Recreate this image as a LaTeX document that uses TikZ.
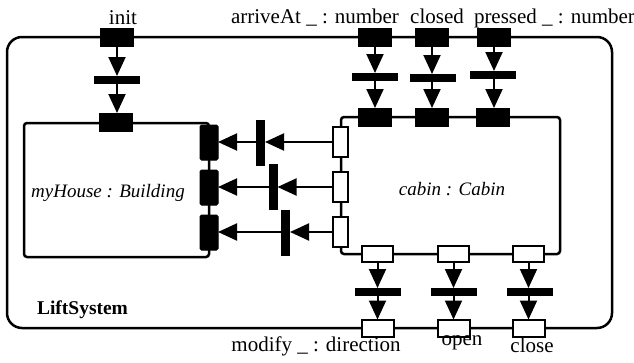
\documentclass[tikz,border=0pt]{standalone}
\usepackage{fontspec}
\setmainfont{Liberation Serif}
\usetikzlibrary{arrows.meta}
\begin{document}
\begin{tikzpicture}[x=1pt,y=-1pt,
  every node/.style={inner sep=0pt, outer sep=0pt},
  bport/.style={draw=black, fill=black, line width=1pt, minimum width=33pt, minimum height=18pt},
  wport/.style={draw=black, fill=white, line width=2pt, minimum width=31pt, minimum height=16pt},
  bvport/.style={draw=black, fill=black, line width=1pt, minimum width=18pt, minimum height=35pt, rounded corners=1.5pt},
  wvport/.style={draw=black, fill=white, line width=2pt, minimum width=15pt, minimum height=30pt},
  hbar/.style={fill=black, minimum width=46pt, minimum height=8pt},
  vbar/.style={fill=black, minimum width=9pt, minimum height=46pt},
  arr/.style={line width=2pt, -{Triangle[length=19pt,width=17pt]}},
  frame/.style={line width=2.5pt},
  lbl/.style={font=\fontsize{21}{25}\selectfont, anchor=base},
]
\useasboundingbox (0,0) rectangle (634,362);
% outer system
\draw[frame, rounded corners=15pt] (7,37) rectangle (612,328);
% parts
\draw[frame, rounded corners=3pt] (24,123) rectangle (209,257);
\draw[frame, rounded corners=3pt] (341,117) rectangle (560,254);

% outer top ports
\node[bport] (pinit) at (117,37) {};
\node[bport] (parr) at (375,37) {};
\node[bport] (pclo) at (432,37) {};
\node[bport] (ppre) at (494,37) {};
% top bars
\node[hbar] (binit) at (117,80) {};
\node[hbar] (barr) at (375,77) {};
\node[hbar] (bclo) at (433,78) {};
\node[hbar] (bpre) at (493,75) {};
% inner top ports
\node[bport] (hinit) at (116,122) {};
\node[bport] (carr) at (375,117) {};
\node[bport] (cclo) at (432,117) {};
\node[bport] (cpre) at (493,117) {};

\draw[arr] (pinit.south) -- (pinit.south |- binit.north);
\draw[arr] (pinit.south |- binit.south) -- (pinit.south |- hinit.north);
\draw[arr] (parr.south) -- (parr.south |- barr.north);
\draw[arr] (parr.south |- barr.south) -- (parr.south |- carr.north);
\draw[arr] (pclo.south) -- (pclo.south |- bclo.north);
\draw[arr] (pclo.south |- bclo.south) -- (pclo.south |- cclo.north);
\draw[arr] (ppre.south) -- (ppre.south |- bpre.north);
\draw[arr] (ppre.south |- bpre.south) -- (ppre.south |- cpre.north);

% house right ports
\node[bvport] (h1) at (209,142.5) {};
\node[bvport] (h2) at (209,187.5) {};
\node[bvport] (h3) at (209,232.5) {};
% cabin left ports
\node[wvport] (c1) at (340.5,142) {};
\node[wvport] (c2) at (340.5,187) {};
\node[wvport] (c3) at (340.5,232) {};
% middle bars
\node[vbar] (m1) at (260.5,142.5) {};
\node[vbar] (m2) at (273,187) {};
\node[vbar] (m3) at (285.5,232.5) {};

\draw[arr] (c1.west) -- (c1.west -| m1.east);
\draw[arr] (c1.west -| m1.west) -- (c1.west -| h1.east);
\draw[arr] (c2.west) -- (c2.west -| m2.east);
\draw[arr] (c2.west -| m2.west) -- (c2.west -| h2.east);
\draw[arr] (c3.west) -- (c3.west -| m3.east);
\draw[arr] (c3.west -| m3.west) -- (c3.west -| h3.east);

% cabin bottom ports
\node[wport] (cmod) at (377.5,254) {};
\node[wport] (copen) at (453.5,254) {};
\node[wport] (cclose) at (528.5,254) {};
% bottom bars
\node[hbar] (bmod) at (378,292) {};
\node[hbar] (bopen) at (454,292) {};
\node[hbar] (bclose) at (529.5,292) {};
% outer bottom ports
\node[wport, minimum width=32pt, minimum height=17pt] (pmod) at (377.5,328) {};
\node[wport, minimum width=32pt, minimum height=17pt] (popen) at (453.5,328) {};
\node[wport, minimum width=32pt, minimum height=17pt] (pclose) at (528.5,328) {};

\draw[arr] (cmod.south) -- (cmod.south |- bmod.north);
\draw[arr] (cmod.south |- bmod.south) -- (cmod.south |- pmod.north);
\draw[arr] (copen.south) -- (copen.south |- bopen.north);
\draw[arr] (copen.south |- bopen.south) -- (copen.south |- popen.north);
\draw[arr] (cclose.south) -- (cclose.south |- bclose.north);
\draw[arr] (cclose.south |- bclose.south) -- (cclose.south |- pclose.north);

% labels
\node[lbl] (linit) at (123,24) {init};
\node[lbl] (larr) at (315,23) {arriveAt \_ : number};
\node[lbl] (lclo) at (437,23) {closed};
\node[lbl, anchor=base west] (lpre) at (474,23) {pressed \_ : number};
\node[lbl] (lmod) at (316,351) {modify \_ : direction};
\node[lbl] (lopen) at (462,345) {open};
\node[lbl] (lclose) at (532,352) {close};
\node[lbl, anchor=base west, font=\fontsize{19.5}{23}\selectfont\bfseries] (lsys) at (37,314) {LiftSystem};
\node[lbl, font=\fontsize{19}{23}\selectfont\itshape] (lhouse) at (108,197) {myHouse : Building};
\node[lbl, font=\fontsize{19}{23}\selectfont\itshape] (lcabin) at (452,195) {cabin : Cabin};
\end{tikzpicture}
\end{document}
